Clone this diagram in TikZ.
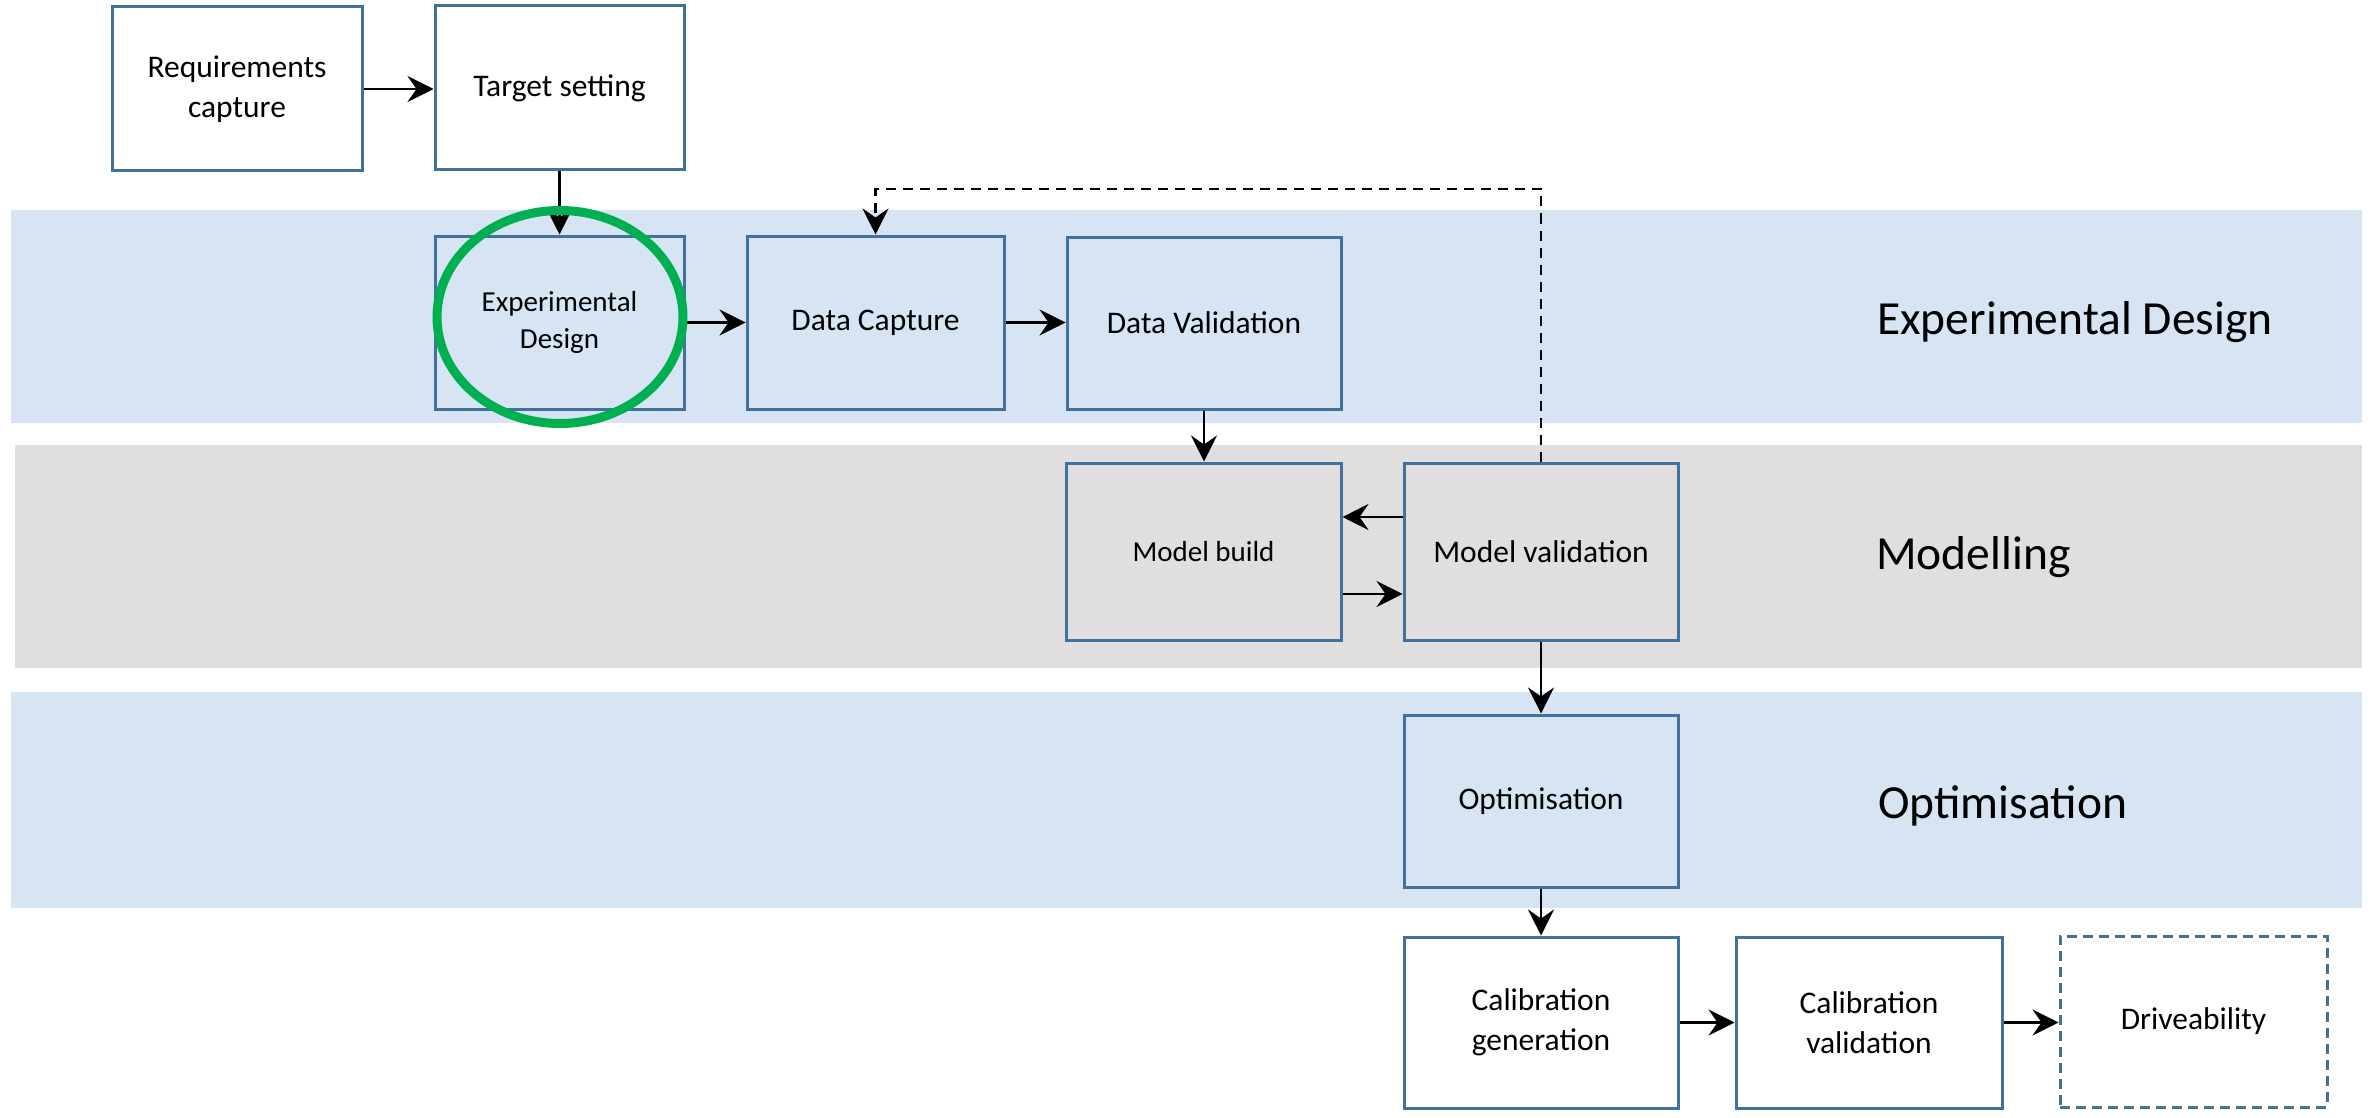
\documentclass[tikz,border=0pt]{standalone}
\usepackage{fontspec}
\setmainfont{Carlito}
\usetikzlibrary{arrows.meta,calc,shapes.geometric}
\definecolor{bdr}{HTML}{41719C}
\definecolor{bandblue}{HTML}{D6E4F3}
\definecolor{bandgrey}{HTML}{E0DEDF}
\definecolor{ringgreen}{HTML}{00B050}
\tikzset{
  stepbox/.style={draw=bdr, line width=3pt, inner sep=0pt, align=center,
    font=\fontsize{31.5}{40}\selectfont},
  smalltext/.style={font=\fontsize{29}{37}\selectfont},
  bandlabel/.style={anchor=west, inner sep=0pt, font=\fontsize{47.5}{57}\selectfont},
  arr/.style={line width=2.2pt, -{Stealth[length=26pt,width=26pt,inset=9pt]}},
  dasharr/.style={line width=2.6pt, dash pattern=on 10pt off 7pt, -{Stealth[length=26pt,width=26pt,inset=9pt]}},
}
\begin{document}
\begin{tikzpicture}[x=1pt,y=-1pt]
\useasboundingbox (0,0) rectangle (2371,1118);
% bands
\fill[bandblue] (11,210) rectangle (2362,423);
\fill[bandgrey] (15,445) rectangle (2362,668);
\fill[bandblue] (11,692) rectangle (2362,908);
\node[bandlabel] (lab1) at (1877,322) {Experimental Design};
\node[bandlabel] (lab2) at (1876,557) {Modelling};
\node[bandlabel] (lab3) at (1878,806) {Optimisation};
% boxes
\node[stepbox, minimum width=250pt, minimum height=164pt] (req) at (237,89) {Requirements\\capture};
\node[stepbox, minimum width=249pt, minimum height=164pt] (tgt) at (559.5,88) {Target setting};
\node[stepbox, smalltext, minimum width=249pt, minimum height=173pt] (exd) at (559.5,322.5) {Experimental\\Design};
\node[stepbox, minimum width=257pt, minimum height=173pt] (dcap) at (875.5,322.5) {Data Capture};
\node[stepbox, minimum width=274pt, minimum height=172pt] (dval) at (1204,323) {Data Validation};
\node[stepbox, smalltext, minimum width=275pt, minimum height=177pt] (mb) at (1203.5,551.5) {Model build};
\node[stepbox, minimum width=274pt, minimum height=177pt] (mv) at (1541,551.5) {Model validation};
\node[stepbox, minimum width=274pt, minimum height=172pt] (opt) at (1541,801) {Optimisation};
\node[stepbox, minimum width=274pt, minimum height=171pt] (cg) at (1541,1022.5) {Calibration\\generation};
\node[stepbox, minimum width=266pt, minimum height=171pt] (cv) at (1869,1022.5) {Calibration\\validation};
\node[stepbox, dash pattern=on 10pt off 6pt, minimum width=267pt, minimum height=171pt] (drv) at (2193.5,1021.5) {Driveability};
% connectors
\draw[arr] (req.east) -- (req.east -| tgt.west);
\draw[arr] (tgt.south) -- (exd.north);
\draw[arr] (exd.east) -- (dcap.west);
\draw[arr] (dcap.east) -- (dcap.east -| dval.west);
\draw[arr] (dval.south) -- (dval.south |- mb.north);
\draw[arr] ([yshift=34.5pt]mv.west) -- ([yshift=34.5pt]mb.east);
\draw[arr] ([yshift=-42.5pt]mb.east) -- ([yshift=-42.5pt]mv.west);
\draw[arr] (mv.south) -- (opt.north);
\draw[arr] (opt.south) -- (cg.north);
\draw[arr] (cg.east) -- (cv.west);
\draw[arr] (cv.east) -- (cv.east -| drv.west);
\coordinate (fb) at (0,189);
\draw[dasharr] (mv.north) -- (mv.north |- fb) -| (dcap.north);
% highlight ring
\node[draw=ringgreen, line width=9pt, ellipse, minimum width=246pt, minimum height=213pt, inner sep=0pt] (ring) at (560,317) {};
\end{tikzpicture}
\end{document}
